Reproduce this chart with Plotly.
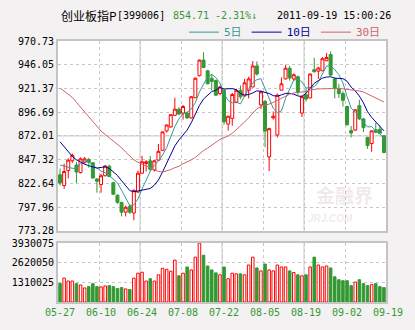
import plotly.graph_objects as go

# ChiNext price index (399006), daily sessions 2011-05-27 .. 2011-09-19
opens = [831.67, 820.52, 836.02, 846.16, 841.80, 834.00, 844.64, 847.48, 844.13, 827.20,
         821.53, 830.65, 840.59, 823.35, 810.38, 802.88, 792.74, 798.82, 791.93, 813.72,
         833.29, 843.42, 846.16, 836.73, 846.87, 857.00, 877.28, 881.33, 893.50, 899.88,
         895.83, 895.83, 890.76, 911.74, 934.65, 950.86, 939.72, 932.01, 929.58, 916.10,
         919.44, 884.37, 890.25, 906.98, 919.44, 913.56, 919.44, 922.89, 944.78, 904.24,
         907.99, 850.21, 890.76, 873.02, 919.65, 931.30, 942.45, 931.30, 933.63, 895.83,
         914.78, 911.54, 940.93, 939.41, 939.72, 950.26, 956.64, 931.30, 921.17, 916.10,
         902.62, 877.58, 878.09, 903.43, 889.74, 870.49, 864.10, 878.39, 878.90, 872.21]
highs = [838.05, 843.12, 848.69, 853.76, 845.15, 849.71, 850.21, 849.20, 844.64, 828.22,
         832.68, 841.80, 842.10, 824.37, 811.39, 803.59, 799.53, 801.05, 816.46, 836.02,
         851.23, 846.87, 851.23, 846.87, 863.70, 876.57, 883.97, 894.81, 911.74, 901.91,
         904.24, 897.55, 913.56, 932.82, 951.57, 958.97, 940.73, 936.37, 930.59, 924.51,
         921.17, 893.09, 916.81, 921.17, 924.51, 931.30, 933.63, 949.85, 949.55, 919.44,
         909.31, 880.62, 897.55, 916.10, 932.82, 946.00, 944.99, 937.08, 934.65, 914.38,
         921.17, 937.08, 953.30, 943.97, 953.91, 958.37, 959.99, 932.82, 926.23, 918.63,
         903.43, 882.34, 899.88, 909.51, 890.76, 871.20, 877.89, 885.69, 882.95, 872.60]
lows = [820.31, 817.07, 827.92, 844.13, 823.15, 832.98, 843.12, 839.06, 827.92, 813.02,
        813.02, 829.94, 828.93, 811.19, 801.26, 788.38, 788.38, 790.92, 784.33, 812.71,
        832.98, 835.01, 835.01, 835.01, 846.16, 856.30, 875.55, 880.62, 892.48, 893.50,
        889.04, 889.74, 890.25, 911.54, 933.84, 942.45, 925.73, 919.44, 913.77, 914.38,
        883.66, 877.58, 882.65, 905.96, 910.32, 913.06, 911.03, 922.69, 934.65, 899.88,
        860.35, 835.52, 889.04, 870.49, 919.44, 930.80, 929.58, 929.58, 914.38, 891.77,
        907.69, 911.03, 938.09, 931.30, 939.41, 949.85, 934.34, 911.03, 911.54, 902.62,
        882.65, 870.49, 877.28, 888.73, 876.06, 858.63, 855.59, 874.74, 874.54, 854.30]
closes = [823.15, 835.01, 846.87, 851.94, 834.50, 848.19, 848.19, 844.64, 828.22, 824.87,
          830.65, 840.79, 829.94, 811.39, 803.08, 792.74, 797.81, 792.74, 815.45, 833.29,
          845.15, 845.15, 837.34, 846.16, 855.99, 876.26, 883.36, 894.10, 899.88, 894.81,
          902.62, 890.76, 912.75, 932.01, 950.86, 943.16, 926.23, 928.57, 914.38, 922.89,
          886.70, 892.48, 915.08, 919.44, 912.75, 927.25, 931.30, 944.78, 936.37, 917.82,
          877.07, 879.61, 892.48, 914.38, 926.23, 942.45, 932.32, 935.66, 917.82, 912.75,
          910.32, 936.37, 938.70, 942.65, 952.28, 953.60, 935.36, 921.17, 916.10, 909.00,
          883.66, 875.05, 899.17, 889.74, 880.62, 862.07, 877.28, 875.86, 874.92, 854.71]
volumes = [1244538, 1593882, 1397376, 1397376, 1222704, 1135368, 938862, 1026198, 1222704, 1026198,
           1004364, 1069866, 1091700, 1026198, 895194, 960696, 873360, 829692, 1593882, 1921392,
           1986894, 1397376, 1550214, 1397376, 1812222, 2248902, 2183400, 2052396, 2794752, 1746720,
           1921392, 2336238, 2139732, 2991258, 3930075, 3122262, 2401740, 2139732, 1943226, 1812222,
           2336238, 1550214, 1921392, 1877724, 1877724, 1812222, 2467242, 2991258, 2270736, 2074230,
           2532744, 2139732, 2074230, 2467242, 2336238, 2336238, 2074230, 1965060, 1812222, 1746720,
           1812222, 2336238, 2991258, 2467242, 2336238, 2401740, 2270736, 1681218, 1484712, 1419210,
           1419210, 1091700, 1331874, 1484712, 1222704, 1091700, 1157202, 1222704, 1026198, 960696]

# moving-average values for the first sessions, which depend on closes before the window
ma5_head = [841.80, 840.58, 839.37, 838.36]
ma10_head = [865.92, 860.86, 855.28, 850.72, 847.17, 844.64, 842.61, 841.09, 839.77]
ma30_head = [921.88, 918.63, 915.59, 912.04, 906.98, 901.91, 896.84, 891.77, 886.70, 881.64,
             877.07, 873.53, 869.98, 866.94, 863.90, 859.84, 855.28, 850.72, 847.17, 844.64,
             842.61, 840.58, 838.56, 836.53, 835.01, 834.50, 835.52, 837.04, 839.06]

date_labels = ["05-27", "06-10", "06-24", "07-08", "07-22", "08-05", "08-19", "09-02", "09-19"]
price_ticks = [773.28, 797.96, 822.64, 847.32, 872.01, 896.69, 921.37, 946.05, 970.73]
volume_ticks = [1310025, 2620050, 3930075]

RED = "#ff0000"
GREEN = "#339933"
C5, C10, C30 = "#339999", "#000099", "#cc6666"
GRID = "#c8c8c8"
FRAME = "#c4c4c4"
MONO = "DejaVu Sans Mono, Noto Sans CJK SC"


def moving_average(values, n, head):
    out = list(head)
    for i in range(n - 1, len(values)):
        out.append(sum(values[i - n + 1:i + 1]) / n)
    return out


n = len(closes)
x = list(range(n))
ma5 = moving_average(closes, 5, ma5_head)
ma10 = moving_average(closes, 10, ma10_head)
ma30 = moving_average(closes, 30, ma30_head)

up = [c >= o for o, c in zip(opens, closes)]

fig = go.Figure()
fig.add_trace(go.Candlestick(
    x=x, open=opens, high=highs, low=lows, close=closes,
    increasing=dict(line=dict(color=RED, width=1), fillcolor="#ffffff"),
    decreasing=dict(line=dict(color=GREEN, width=1), fillcolor=GREEN),
    whiskerwidth=0, showlegend=False, xaxis="x", yaxis="y", hoverinfo="skip"))

for vals, col, name in [(ma5, C5, "5日"), (ma10, C10, "10日"), (ma30, C30, "30日")]:
    fig.add_trace(go.Scatter(
        x=x, y=vals, mode="lines", line=dict(color=col, width=1),
        name=f"<span style='color:{col}'>{name}</span>", xaxis="x", yaxis="y",
        hoverinfo="skip"))

fig.add_trace(go.Bar(
    x=x, y=volumes, width=0.62, xaxis="x2", yaxis="y2", showlegend=False,
    marker=dict(color=["#ffffff" if u else GREEN for u in up],
                line=dict(color=[RED if u else GREEN for u in up], width=1)),
    hoverinfo="skip"))

tick_pos = [10 * k - 0.5 for k in range(len(date_labels))]
xcommon = dict(range=[-0.5, n - 0.5], tickvals=tick_pos, showgrid=True, gridcolor=GRID,
               griddash="3px,3px", gridwidth=1, showline=True, mirror=True,
               linecolor=FRAME, linewidth=2, ticks="", zeroline=False, fixedrange=True)

fig.update_layout(
    width=415, height=330,
    margin=dict(l=54, r=25, t=41, b=21),
    paper_bgcolor="#f3f1f1", plot_bgcolor="#ffffff",
    boxgap=0.28, boxgroupgap=0,
    xaxis=dict(domain=[0, 1], anchor="y", showticklabels=False, rangeslider=dict(visible=False),
               **xcommon),
    xaxis2=dict(domain=[0, 1], anchor="y2", showticklabels=True, ticktext=date_labels,
                tickfont=dict(family=MONO, size=10, color=GREEN), ticklabelshift=2,
                **xcommon),
    yaxis=dict(domain=[0.2724, 1], range=[price_ticks[0], price_ticks[-1]],
               tickvals=price_ticks, ticktext=[f"{v:.2f}" for v in price_ticks],
               tickfont=dict(family=MONO, size=10, color="#000000"),
               showgrid=True, gridcolor=GRID, griddash="3px,3px", showline=True, mirror=True,
               linecolor=FRAME, linewidth=2, ticks="", zeroline=False),
    yaxis2=dict(domain=[0, 0.2257], range=[0, volume_ticks[-1]],
                tickvals=volume_ticks, ticktext=[str(v) for v in volume_ticks],
                tickfont=dict(family=MONO, size=10, color="#000000"),
                showgrid=True, gridcolor=GRID, griddash="3px,3px", showline=True, mirror=True,
                linecolor=FRAME, linewidth=2, ticks="", zeroline=False),
    legend=dict(orientation="h", x=1.0, xanchor="right", y=1.034, yanchor="middle",
                font=dict(family=MONO, size=11), bgcolor="rgba(0,0,0,0)",
                itemwidth=30, traceorder="normal"),
    showlegend=True,
)

# solid reference lines: middle price level and every second date boundary
shapes = [dict(type="line", xref="x domain", x0=0, x1=1, yref="y", y0=price_ticks[4],
               y1=price_ticks[4], line=dict(color=GRID, width=1), layer="below")]
for k in (2, 4, 6):
    for xr, yr in (("x", "y domain"), ("x2", "y2 domain")):
        shapes.append(dict(type="line", xref=xr, x0=tick_pos[k], x1=tick_pos[k], yref=yr,
                           y0=0, y1=1, line=dict(color=GRID, width=1), layer="below"))
fig.update_layout(shapes=shapes)


def px(xp):
    return (xp - 54) / 336


def py(yp):
    return (309 - yp) / 268


header = [
    ("创业板指P", 55, "#000000", "Noto Sans CJK SC", 12),
    ("[399006]", 112, "#000000", MONO, 10),
    (f"{closes[-1]:.2f}", 170, GREEN, MONO, 10),
    (f"{(closes[-1] / closes[-2] - 1) * 100:.2f}%↓", 213, GREEN, MONO, 10),
    ("2011-09-19 15:00:26", 276, "#000000", MONO, 10),
]
for text, xp, col, fam, size in header:
    fig.add_annotation(text=text, xref="paper", yref="paper", x=px(xp), y=py(15),
                       xanchor="left", yanchor="middle", showarrow=False,
                       font=dict(family=fam, size=size, color=col))

# faint site watermark inside the price panel
fig.add_annotation(text="<b>金融界</b>", xref="paper", yref="paper", x=px(347), y=py(199),
                   xanchor="center", yanchor="middle", showarrow=False,
                   font=dict(family="Noto Sans CJK SC", size=19, color="rgba(200,170,170,0.25)"))
fig.add_annotation(text="<b><i>JRJ.COM</i></b>", xref="paper", yref="paper", x=px(308), y=py(223),
                   xanchor="left", yanchor="middle", showarrow=False,
                   font=dict(family="Liberation Sans", size=10, color="rgba(200,170,170,0.25)"))

fig.write_html("out.html")
